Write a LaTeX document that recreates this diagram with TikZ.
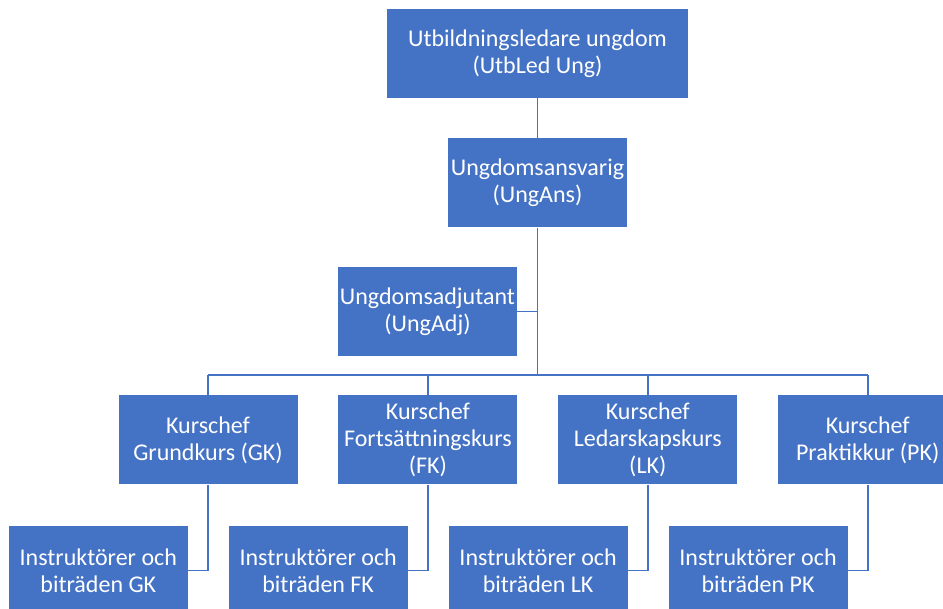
\documentclass[tikz,border=0pt]{standalone}
\usepackage{fontspec}
\setmainfont{Carlito}
\usetikzlibrary{positioning,calc}
\definecolor{orgblue}{HTML}{4472C4}
\tikzset{block/.style={fill=orgblue,text=white,minimum width=179pt,minimum height=89pt,inner sep=2pt,align=center,font=\fontsize{24}{27}\selectfont},
         link/.style={draw=orgblue,line width=1.8pt}
}

\begin{document}
\begin{tikzpicture}[x=1pt,y=-1pt]
\useasboundingbox (0,0) rectangle (943,609);

\node[block,minimum width=301pt] (utbled) at (537.5,53.5) {Utbildningsledare ungdom\\(UtbLed Ung)};
\node[block,below=40pt of utbled] (ungans) {Ungdomsansvarig\\(UngAns)};
\node[block] (ungadj) at (427.5,311.5) {Ungdomsadjutant\\(UngAdj)};
\coordinate (bus) at (537.5,375);
\node[block] (kgk) at (208,440) {Kurschef\\Grundkurs (GK)};
\node[block,right=40.5pt of kgk] (kfk) {Kurschef\\Fortsättningskurs\\(FK)};
\node[block,right=40.5pt of kfk] (klk) {Kurschef\\Ledarskapskurs\\(LK)};
\node[block,right=40.5pt of klk] (kpk) {Kurschef\\Praktikkur (PK)};
\node[block,below left=41pt and 20pt of kgk.south] (igk) {Instruktörer och\\biträden GK};
\node[block,below left=41pt and 20pt of kfk.south] (ifk) {Instruktörer och\\biträden FK};
\node[block,below left=41pt and 20pt of klk.south] (ilk) {Instruktörer och\\biträden LK};
\node[block,below left=41pt and 20pt of kpk.south] (ipk) {Instruktörer och\\biträden PK};

\draw[link] (utbled)--(ungans);
\draw[link] (ungans)--(bus);
\draw[link] (ungadj)--(ungadj -| bus);
\draw[link] (kgk.north |- bus)--(kpk.north |- bus);
\foreach \k in {kgk,kfk,klk,kpk}
  \draw[link] (\k)--(\k.north |- bus);
\draw[link] (kgk)|-(igk);
\draw[link] (kfk)|-(ifk);
\draw[link] (klk)|-(ilk);
\draw[link] (kpk)|-(ipk);

\end{tikzpicture}
\end{document}
